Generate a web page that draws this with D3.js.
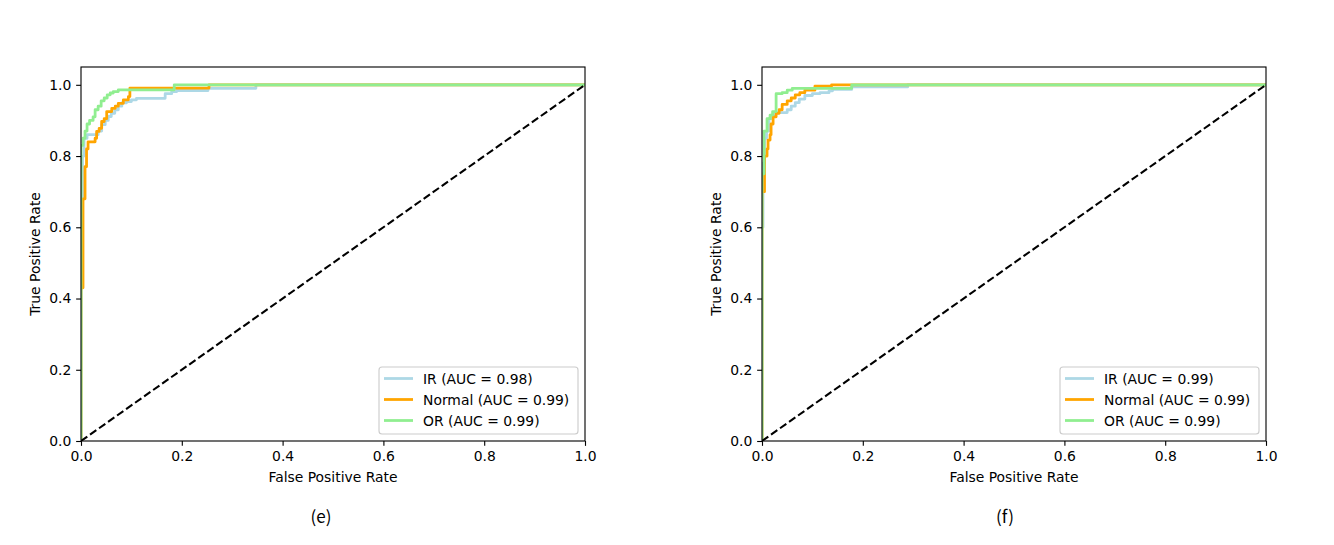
<!DOCTYPE html>
<html>
<head>
<meta charset="utf-8">
<script src="https://cdn.jsdelivr.net/npm/d3@7"></script>
<style>
  html, body { margin: 0; padding: 0; background: #fff; }
  svg { display: block; }
  text { font-family: "DejaVu Sans", sans-serif; }
</style>
</head>
<body>
<svg id="chart" width="1334" height="545"></svg>
<script>
// ---------- data ----------
const seriesNames = ["IR", "Normal", "OR"];
const tickValues = [0, 0.2, 0.4, 0.6, 0.8, 1.0];
const panelLabels = ["(e)", "(f)"];

const aucE = [0.98, 0.99, 0.99];
const aucF = [0.99, 0.99, 0.99];

// ROC corner points [FPR, TPR]: TPR rises to the given value at the given FPR
// panel (e)
const irE = [[0,0],[0,0.66],[0.003,0.80],[0.006,0.85],[0.012,0.86],[0.034,0.87],[0.041,0.888],[0.048,0.90],[0.054,0.911],[0.06,0.92],[0.067,0.93],[0.074,0.94],[0.081,0.949],[0.09,0.953],[0.1,0.958],[0.11,0.962],[0.167,0.975],[0.18,0.981],[0.19,0.984],[0.252,0.99],[0.347,1],[1,1]];
const normalE = [[0,0],[0,0.43],[0.004,0.68],[0.008,0.77],[0.011,0.82],[0.014,0.84],[0.028,0.85],[0.031,0.869],[0.036,0.878],[0.041,0.897],[0.046,0.905],[0.051,0.925],[0.061,0.934],[0.068,0.94],[0.074,0.948],[0.084,0.958],[0.094,0.967],[0.097,0.991],[0.254,1],[1,1]];
const orE = [[0,0],[0,0.83],[0.004,0.85],[0.008,0.87],[0.012,0.89],[0.017,0.90],[0.024,0.91],[0.028,0.93],[0.034,0.94],[0.04,0.955],[0.046,0.963],[0.052,0.972],[0.058,0.977],[0.064,0.981],[0.074,0.986],[0.185,1],[1,1]];

// panel (f)
const irF = [[0,0],[0,0.60],[0.002,0.78],[0.005,0.85],[0.009,0.87],[0.014,0.905],[0.02,0.915],[0.026,0.922],[0.05,0.93],[0.058,0.94],[0.066,0.95],[0.074,0.96],[0.085,0.97],[0.1,0.975],[0.115,0.978],[0.133,0.983],[0.14,0.987],[0.178,0.994],[0.289,1],[1,1]];
const normalF = [[0,0],[0,0.70],[0.005,0.80],[0.01,0.82],[0.012,0.845],[0.016,0.86],[0.018,0.89],[0.022,0.91],[0.028,0.92],[0.034,0.93],[0.04,0.945],[0.05,0.955],[0.058,0.963],[0.066,0.972],[0.075,0.978],[0.085,0.985],[0.105,0.996],[0.138,1],[1,1]];
const orF = [[0,0],[0,0.75],[0.004,0.87],[0.01,0.905],[0.016,0.915],[0.021,0.925],[0.028,0.975],[0.04,0.978],[0.05,0.985],[0.06,0.99],[0.178,1],[1,1]];

const diagonal = [[0,0],[1,1]];

// ---------- drawing ----------
const colors = ["#add8e6", "#ffa500", "#90ee90"];
const svg = d3.select("#chart");
svg.append("rect").attr("width",1334).attr("height",545).attr("fill","#fff");

const panels = [
  {left: 81, right: 585, label: panelLabels[0], labelX: 321, series: [irE, normalE, orE], auc: aucE},
  {left: 762, right: 1266, label: panelLabels[1], labelX: 1005, series: [irF, normalF, orF], auc: aucF}
];
const plotTop = 67, plotBottom = 441;
const fs = 13.9;
const pt = 100 / 72;

panels.forEach((p, pi) => {
  const x = d3.scaleLinear().domain([0, 1]).range([p.left, p.right]);
  const y = d3.scaleLinear().domain([0, 1.05]).range([plotBottom, plotTop]);
  const g = svg.append("g");

  const clipId = "clip" + pi;
  g.append("clipPath").attr("id", clipId)
    .append("rect").attr("x", p.left).attr("y", plotTop)
    .attr("width", p.right - p.left).attr("height", plotBottom - plotTop);

  const stepLine = d3.line().x(d => x(d[0])).y(d => y(d[1])).curve(d3.curveStepAfter);
  const straight = d3.line().x(d => x(d[0])).y(d => y(d[1]));
  const plot = g.append("g").attr("clip-path", `url(#${clipId})`);

  p.series.forEach((s, i) => {
    plot.append("path").datum(s).attr("d", stepLine)
      .attr("fill", "none").attr("stroke", colors[i])
      .attr("stroke-width", 2 * pt).attr("stroke-linejoin", "round").attr("stroke-linecap", "butt");
  });
  plot.append("path").datum(diagonal).attr("d", straight)
    .attr("fill", "none").attr("stroke", "#000")
    .attr("stroke-width", 1.5 * pt).attr("stroke-dasharray", `${5.55 * pt},${2.4 * pt}`);

  // axes
  const xAxis = d3.axisBottom(x).tickValues(tickValues).tickFormat(d3.format(".1f")).tickSize(3.5 * pt).tickPadding(3.5 * pt);
  const yAxis = d3.axisLeft(y).tickValues(tickValues).tickFormat(d3.format(".1f")).tickSize(3.5 * pt).tickPadding(3.5 * pt);
  const gx = g.append("g").attr("transform", `translate(0,${plotBottom})`).call(xAxis);
  const gy = g.append("g").attr("transform", `translate(${p.left},0)`).call(yAxis);
  [gx, gy].forEach(a => {
    a.select(".domain").remove();
    a.selectAll(".tick line").attr("stroke", "#000").attr("stroke-width", 0.8 * pt);
    a.selectAll(".tick text").attr("fill", "#000").style("font-size", fs + "px").style("font-family", "DejaVu Sans");
  });
  gx.selectAll(".tick text").attr("dy", "0.71em");

  // spines
  g.append("rect").attr("x", p.left).attr("y", plotTop)
    .attr("width", p.right - p.left).attr("height", plotBottom - plotTop)
    .attr("fill", "none").attr("stroke", "#000").attr("stroke-width", 0.8 * pt);

  // axis labels
  g.append("text").attr("x", (p.left + p.right) / 2).attr("y", 482)
    .attr("text-anchor", "middle").style("font-size", fs + "px").text("False Positive Rate");
  g.append("text").attr("transform", `translate(${p.left - 41},${(plotTop + plotBottom) / 2}) rotate(-90)`)
    .attr("text-anchor", "middle").style("font-size", fs + "px").text("True Positive Rate");

  // legend
  const lx = p.right - 206, ly = 367, lw = 199, lh = 67;
  const leg = g.append("g");
  leg.append("rect").attr("x", lx).attr("y", ly).attr("width", lw).attr("height", lh)
    .attr("rx", 3).attr("fill", "#fff").attr("fill-opacity", 0.8)
    .attr("stroke", "#cccccc").attr("stroke-width", 0.8 * pt);
  const rowY = [378.5, 399.5, 420.5];
  seriesNames.forEach((n, i) => {
    leg.append("line").attr("x1", lx + 5).attr("x2", lx + 34)
      .attr("y1", rowY[i]).attr("y2", rowY[i])
      .attr("stroke", colors[i]).attr("stroke-width", 2 * pt);
    leg.append("text").attr("x", lx + 44).attr("y", rowY[i]).attr("dy", "0.36em")
      .style("font-size", fs + "px").text(`${n} (AUC = ${p.auc[i].toFixed(2)})`);
  });

  // panel label
  g.append("text").attr("x", p.labelX).attr("y", 523).attr("text-anchor", "middle")
    .style("font-family", "'Noto Sans CJK SC', sans-serif").style("font-size", "17px").text(p.label);
});
</script>
</body>
</html>
